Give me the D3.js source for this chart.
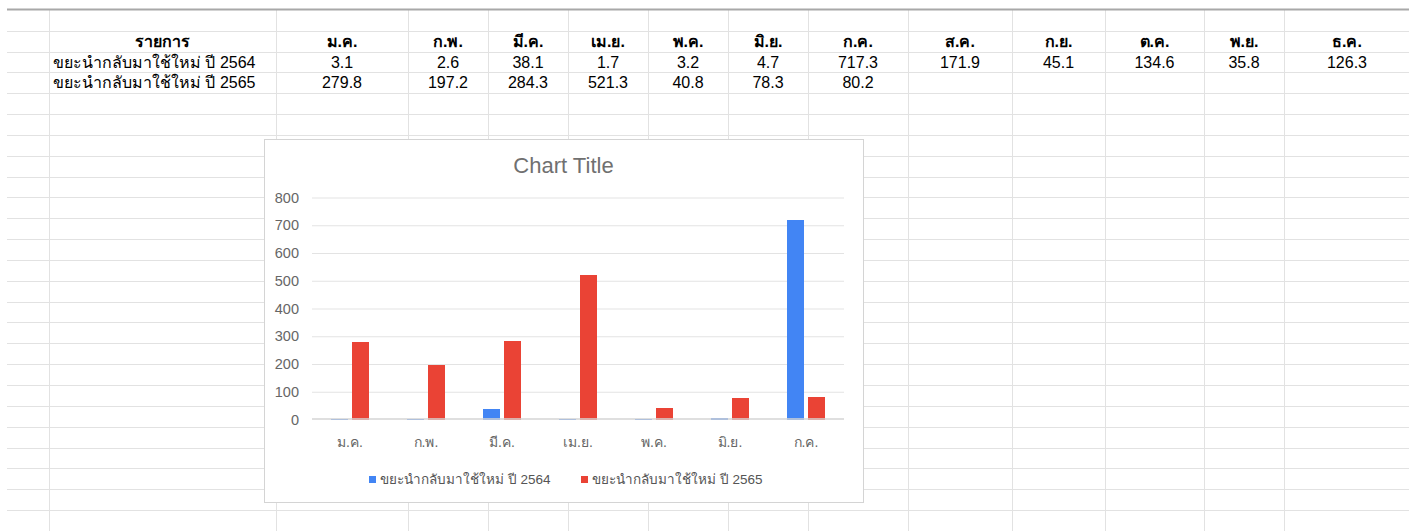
<!DOCTYPE html>
<html>
<head>
<meta charset="utf-8">
<script src="https://cdn.jsdelivr.net/npm/d3@7"></script>
<style>
  body { margin: 0; background: #fff; }
  svg { display: block; font-family: Arial, "Liberation Sans", sans-serif; }
</style>
</head>
<body>
<div id="sheet"></div>
<script>
// data
var headerLabel = "รายการ";
var months = ["ม.ค.", "ก.พ.", "มี.ค.", "เม.ย.", "พ.ค.", "มิ.ย.", "ก.ค.", "ส.ค.", "ก.ย.", "ต.ค.", "พ.ย.", "ธ.ค."];
var seriesNames = ["ขยะนำกลับมาใช้ใหม่ ปี 2564", "ขยะนำกลับมาใช้ใหม่ ปี 2565"];
var values2564 = [3.1, 2.6, 38.1, 1.7, 3.2, 4.7, 717.3, 171.9, 45.1, 134.6, 35.8, 126.3];
var values2565 = [279.8, 197.2, 284.3, 521.3, 40.8, 78.3, 80.2];
var chartMonths = months.slice(0, 7);
var yTicks = [0, 100, 200, 300, 400, 500, 600, 700, 800];
var chartTitle = "Chart Title";
var colors = ["#4285f4", "#ea4335"];

var W = 1409, H = 531;

var svg = d3.select("#sheet")
    .append("svg")
    .attr("width", W)
    .attr("height", H);

// spreadsheet grid
var colEdges = [49, 276, 408, 488, 568, 648, 728, 808, 908, 1012, 1105, 1204, 1284, 1410];
var rowH = 20.84, firstRow = 30.7;
var rowLines = d3.range(firstRow, H + 1, rowH);

svg.append("g").selectAll("line")
    .data(rowLines)
    .enter()
    .append("line")
    .attr("x1", 7).attr("x2", W)
    .attr("y1", function (d) { return Math.round(d) + 0.5; })
    .attr("y2", function (d) { return Math.round(d) + 0.5; })
    .attr("stroke", "#e2e2e2");

svg.append("g").selectAll("line")
    .data(colEdges)
    .enter()
    .append("line")
    .attr("x1", function (d) { return d + 0.5; })
    .attr("x2", function (d) { return d + 0.5; })
    .attr("y1", 9).attr("y2", H)
    .attr("stroke", "#e2e2e2");

svg.append("line")
    .attr("x1", 7).attr("x2", W)
    .attr("y1", 9.5).attr("y2", 9.5)
    .attr("stroke", "#a8a8a8")
    .attr("stroke-width", 2);

// table text
function rowY(i) { return firstRow + rowH * i + rowH / 2; }
function colMid(i) { return (colEdges[i] + colEdges[i + 1]) / 2; }
var fmt = d3.format(".1f");

var table = svg.append("g")
    .style("font-size", "16px")
    .attr("fill", "#000");

table.append("text")
    .attr("x", colMid(0))
    .attr("y", rowY(0))
    .attr("dy", "0.35em")
    .attr("text-anchor", "middle")
    .style("font-weight", "bold")
    .text(headerLabel);

table.selectAll(".hdr")
    .data(months)
    .enter()
    .append("text")
    .attr("class", "hdr")
    .attr("x", function (d, i) { return colMid(i + 1); })
    .attr("y", rowY(0))
    .attr("dy", "0.35em")
    .attr("text-anchor", "middle")
    .style("font-weight", "bold")
    .text(function (d) { return d; });

[values2564, values2565].forEach(function (vals, r) {
    table.append("text")
        .attr("x", colEdges[0] + 4)
        .attr("y", rowY(r + 1))
        .attr("dy", "0.35em")
        .text(seriesNames[r]);

    table.selectAll(".v" + r)
        .data(vals)
        .enter()
        .append("text")
        .attr("class", "v" + r)
        .attr("x", function (d, i) { return colMid(i + 1); })
        .attr("y", rowY(r + 1))
        .attr("dy", "0.35em")
        .attr("text-anchor", "middle")
        .text(function (d) { return fmt(d); });
});

// chart box
var box = { x: 264, y: 139, w: 599, h: 363 };
svg.append("rect")
    .attr("x", box.x + 0.5).attr("y", box.y + 0.5)
    .attr("width", box.w).attr("height", box.h)
    .attr("fill", "#fff")
    .attr("stroke", "#d4d4d4");

svg.append("text")
    .attr("x", box.x + box.w / 2)
    .attr("y", 165)
    .attr("dy", "0.35em")
    .attr("text-anchor", "middle")
    .attr("fill", "#707070")
    .style("font-size", "22px")
    .text(chartTitle);

// scales
var x0 = d3.scaleBand()
    .domain(chartMonths)
    .range([312, 844]);

var x1 = d3.scaleBand()
    .domain(seriesNames)
    .range([0, 38])
    .paddingInner(0.19);

var y = d3.scaleLinear()
    .domain([0, 800])
    .range([419.5, 197.5]);

// gridlines
svg.append("g")
    .call(d3.axisLeft(y).tickValues(yTicks.slice(1)).tickSize(-(844 - 312)).tickFormat(""))
    .attr("transform", "translate(312,0)")
    .call(function (g) {
        g.select(".domain").remove();
        g.selectAll("line").attr("stroke", "#e3e3e3");
    });

// y labels
svg.append("g").selectAll("text")
    .data(yTicks)
    .enter()
    .append("text")
    .attr("x", 299)
    .attr("y", function (d) { return y(d); })
    .attr("dy", "0.35em")
    .attr("text-anchor", "end")
    .attr("fill", "#666")
    .style("font-size", "14.5px")
    .text(function (d) { return d; });

// x labels
svg.append("g").selectAll("text")
    .data(chartMonths)
    .enter()
    .append("text")
    .attr("x", function (d) { return x0(d) + x0.bandwidth() / 2; })
    .attr("y", 442)
    .attr("dy", "0.35em")
    .attr("text-anchor", "middle")
    .attr("fill", "#666")
    .style("font-size", "14px")
    .text(function (d) { return d; });

// bars
var groupOffset = (x0.bandwidth() - 38) / 2;
var barData = [];
chartMonths.forEach(function (m, i) {
    barData.push({ month: m, series: seriesNames[0], value: values2564[i], color: colors[0] });
    barData.push({ month: m, series: seriesNames[1], value: values2565[i], color: colors[1] });
});

svg.append("g").selectAll("rect")
    .data(barData)
    .enter()
    .append("rect")
    .attr("x", function (d) { return x0(d.month) + groupOffset + x1(d.series); })
    .attr("width", x1.bandwidth())
    .attr("y", function (d) { return y(d.value); })
    .attr("height", function (d) { return y(0) - y(d.value); })
    .attr("fill", function (d) { return d.color; })
    .attr("shape-rendering", "crispEdges");

// baseline on top of the bars
svg.append("line")
    .attr("x1", 312).attr("x2", 844)
    .attr("y1", y(0) - 0.5).attr("y2", y(0) - 0.5)
    .attr("stroke", "#d4d4d4")
    .attr("stroke-width", 1.5);

// legend
var legendX = [369, 581];
var legend = svg.append("g").selectAll("g")
    .data(seriesNames)
    .enter()
    .append("g")
    .attr("transform", function (d, i) { return "translate(" + legendX[i] + ",476)"; });

legend.append("rect")
    .attr("width", 7).attr("height", 7)
    .attr("fill", function (d, i) { return colors[i]; });

legend.append("text")
    .attr("x", 11)
    .attr("y", 7)
    .attr("dy", "0.1em")
    .attr("fill", "#555")
    .style("font-size", "13.5px")
    .text(function (d) { return d; });
</script>
</body>
</html>
